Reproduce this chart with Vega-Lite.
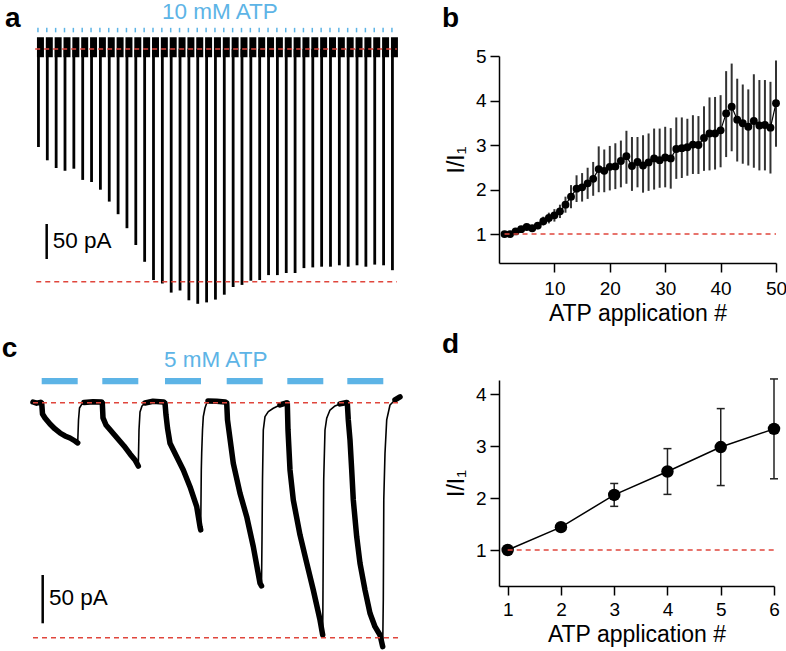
{
  "$schema": "https://vega.github.io/schema/vega-lite/v6.json",
  "padding": 0,
  "background": "white",
  "config": {
    "view": {"stroke": null},
    "font": "Liberation Sans",
    "axis": {
      "grid": false, "domainColor": "#000", "domainWidth": 1.5, "tickColor": "#000", "tickWidth": 1.5, "tickSize": 9,
      "labelFont": "Liberation Sans", "titleFont": "Liberation Sans", "labelFontSize": 19, "titleFontSize": 23,
      "titleFontWeight": "normal", "labelColor": "#000", "titleColor": "#000", "labelPadding": 4, "titlePadding": 7, "labelFlush": false
    }
  },
  "datasets": {
    "a_spikes": [
      {"app":1,"tip":-140},{"app":2,"tip":-159},{"app":3,"tip":-170},{"app":4,"tip":-174},{"app":5,"tip":-171},
      {"app":6,"tip":-187},{"app":7,"tip":-190},{"app":8,"tip":-201},{"app":9,"tip":-218},{"app":10,"tip":-236},
      {"app":11,"tip":-256},{"app":12,"tip":-280},{"app":13,"tip":-304},{"app":14,"tip":-330},{"app":15,"tip":-335},
      {"app":16,"tip":-348},{"app":17,"tip":-345},{"app":18,"tip":-359},{"app":19,"tip":-364},{"app":20,"tip":-362},
      {"app":21,"tip":-358},{"app":22,"tip":-351},{"app":23,"tip":-340},{"app":24,"tip":-337},{"app":25,"tip":-331},
      {"app":26,"tip":-330},{"app":27,"tip":-323},{"app":28,"tip":-323},{"app":29,"tip":-320},{"app":30,"tip":-320},
      {"app":31,"tip":-313},{"app":32,"tip":-312},{"app":33,"tip":-311},{"app":34,"tip":-311},{"app":35,"tip":-309},
      {"app":36,"tip":-311},{"app":37,"tip":-309},{"app":38,"tip":-311},{"app":39,"tip":-308},{"app":40,"tip":-309},
      {"app":41,"tip":-316}
    ],
    "a_ref": [{"ref":"baseline","I":0,"from":0.63,"to":41.5},{"ref":"max","I":-332.4,"from":0.75,"to":41.5}],
    "c_ref": [{"ref":"baseline","I":0,"from":0,"to":30.6},{"ref":"max","I":-243.4,"from":0,"to":30.6}],
    "b_ref": [{"ref":"baseline","m":1,"from":1,"to":50}],
    "d_ref": [{"ref":"baseline","m":1,"from":1,"to":6}],
    "c_bars": [
      {"app":1,"start":0.725,"end":3.725},{"app":2,"start":5.775,"end":8.775},{"app":3,"start":11.0,"end":14.0},
      {"app":4,"start":16.142,"end":19.142},{"app":5,"start":21.192,"end":24.192},{"app":6,"start":26.192,"end":29.192}
    ],
    "c_trace": [
      {"t":0,"I":0.7,"ph":"rest","seg":"r0"},{"t":0.3,"I":-0.5,"ph":"rest","seg":"r0"},{"t":0.625,"I":0.3,"ph":"rest","seg":"r0"},
      {"t":0.725,"I":-0.3,"ph":"atp","seg":"a1"},{"t":0.792,"I":-11.7,"ph":"atp","seg":"a1"},{"t":1.0,"I":-15.8,"ph":"atp","seg":"a1"},{"t":1.417,"I":-22.1,"ph":"atp","seg":"a1"},{"t":1.833,"I":-27.2,"ph":"atp","seg":"a1"},{"t":2.25,"I":-31.4,"ph":"atp","seg":"a1"},{"t":2.667,"I":-34.5,"ph":"atp","seg":"a1"},{"t":3.083,"I":-36.6,"ph":"atp","seg":"a1"},{"t":3.5,"I":-39.7,"ph":"atp","seg":"a1"},{"t":3.725,"I":-41.7,"ph":"atp","seg":"a1"},
      {"t":3.792,"I":-17.9,"ph":"wash","seg":"w1"},{"t":3.875,"I":-5.5,"ph":"wash","seg":"w1"},{"t":4.083,"I":-1.3,"ph":"wash","seg":"w1"},
      {"t":4.25,"I":0.2,"ph":"rest","seg":"r1"},{"t":5.0,"I":1.0,"ph":"rest","seg":"r1"},{"t":5.708,"I":0.7,"ph":"rest","seg":"r1"},
      {"t":5.775,"I":-0.3,"ph":"atp","seg":"a2"},{"t":5.833,"I":-15.8,"ph":"atp","seg":"a2"},{"t":6.083,"I":-23.1,"ph":"atp","seg":"a2"},{"t":6.583,"I":-30.3,"ph":"atp","seg":"a2"},{"t":7.083,"I":-37.6,"ph":"atp","seg":"a2"},{"t":7.583,"I":-44.8,"ph":"atp","seg":"a2"},{"t":8.083,"I":-53.1,"ph":"atp","seg":"a2"},{"t":8.5,"I":-59.3,"ph":"atp","seg":"a2"},{"t":8.775,"I":-65.6,"ph":"atp","seg":"a2"},
      {"t":8.833,"I":-28.3,"ph":"wash","seg":"w2"},{"t":8.917,"I":-9.6,"ph":"wash","seg":"w2"},{"t":9.083,"I":-3.4,"ph":"wash","seg":"w2"},
      {"t":9.333,"I":-0.3,"ph":"rest","seg":"r2"},{"t":10.0,"I":1.5,"ph":"rest","seg":"r2"},{"t":10.875,"I":0.7,"ph":"rest","seg":"r2"},
      {"t":11.0,"I":-0.3,"ph":"atp","seg":"a3"},{"t":11.083,"I":-12.7,"ph":"atp","seg":"a3"},{"t":11.208,"I":-26.2,"ph":"atp","seg":"a3"},{"t":11.417,"I":-42.1,"ph":"atp","seg":"a3"},{"t":11.975,"I":-55.9,"ph":"atp","seg":"a3"},{"t":12.525,"I":-69.7,"ph":"atp","seg":"a3"},{"t":13.083,"I":-87.0,"ph":"atp","seg":"a3"},{"t":13.642,"I":-107.7,"ph":"atp","seg":"a3"},{"t":13.917,"I":-128.4,"ph":"atp","seg":"a3"},{"t":13.975,"I":-131.8,"ph":"atp","seg":"a3"},
      {"t":14.025,"I":-69.7,"ph":"wash","seg":"w3"},{"t":14.058,"I":-52.1,"ph":"wash","seg":"w3"},{"t":14.125,"I":-28.3,"ph":"wash","seg":"w3"},{"t":14.192,"I":-14.5,"ph":"wash","seg":"w3"},{"t":14.333,"I":-5.5,"ph":"wash","seg":"w3"},{"t":14.475,"I":-0.3,"ph":"wash","seg":"w3"},
      {"t":14.583,"I":1.8,"ph":"rest","seg":"r3"},{"t":15.3,"I":1.5,"ph":"rest","seg":"r3"},{"t":16.0,"I":0.7,"ph":"rest","seg":"r3"},
      {"t":16.142,"I":-0.3,"ph":"atp","seg":"a4"},{"t":16.208,"I":-17.9,"ph":"atp","seg":"a4"},{"t":16.692,"I":-62.8,"ph":"atp","seg":"a4"},{"t":17.25,"I":-93.8,"ph":"atp","seg":"a4"},{"t":17.808,"I":-118.1,"ph":"atp","seg":"a4"},{"t":18.358,"I":-149.1,"ph":"atp","seg":"a4"},{"t":18.917,"I":-187.0,"ph":"atp","seg":"a4"},{"t":19.042,"I":-189.8,"ph":"atp","seg":"a4"},
      {"t":19.083,"I":-141.6,"ph":"wash","seg":"w4"},{"t":19.125,"I":-80.0,"ph":"wash","seg":"w4"},{"t":19.192,"I":-28.3,"ph":"wash","seg":"w4"},{"t":19.333,"I":-14.5,"ph":"wash","seg":"w4"},{"t":19.608,"I":-9.3,"ph":"wash","seg":"w4"},{"t":20.025,"I":-5.8,"ph":"wash","seg":"w4"},
      {"t":20.583,"I":-2.4,"ph":"rest","seg":"r4"},{"t":21.125,"I":-0.3,"ph":"rest","seg":"r4"},
      {"t":21.192,"I":-0.3,"ph":"atp","seg":"a5"},{"t":21.25,"I":-28.3,"ph":"atp","seg":"a5"},{"t":21.417,"I":-69.7,"ph":"atp","seg":"a5"},{"t":21.692,"I":-100.8,"ph":"atp","seg":"a5"},{"t":22.25,"I":-137.0,"ph":"atp","seg":"a5"},{"t":22.808,"I":-166.0,"ph":"atp","seg":"a5"},{"t":23.358,"I":-194.0,"ph":"atp","seg":"a5"},{"t":23.917,"I":-225.0,"ph":"atp","seg":"a5"},{"t":24.142,"I":-240.6,"ph":"atp","seg":"a5"},
      {"t":24.183,"I":-162.9,"ph":"wash","seg":"w5"},{"t":24.225,"I":-80.1,"ph":"wash","seg":"w5"},{"t":24.333,"I":-28.3,"ph":"wash","seg":"w5"},{"t":24.475,"I":-16.2,"ph":"wash","seg":"w5"},{"t":24.75,"I":-7.6,"ph":"wash","seg":"w5"},{"t":25.167,"I":-3.4,"ph":"wash","seg":"w5"},
      {"t":25.583,"I":-1.3,"ph":"rest","seg":"r5"},{"t":26.142,"I":0.2,"ph":"rest","seg":"r5"},
      {"t":26.192,"I":-0.3,"ph":"atp","seg":"a6"},{"t":26.275,"I":-17.9,"ph":"atp","seg":"a6"},{"t":26.417,"I":-38.6,"ph":"atp","seg":"a6"},{"t":26.558,"I":-69.7,"ph":"atp","seg":"a6"},{"t":26.692,"I":-100.8,"ph":"atp","seg":"a6"},{"t":26.975,"I":-138.8,"ph":"atp","seg":"a6"},{"t":27.25,"I":-166.3,"ph":"atp","seg":"a6"},{"t":27.667,"I":-194.0,"ph":"atp","seg":"a6"},{"t":28.083,"I":-218.1,"ph":"atp","seg":"a6"},{"t":28.5,"I":-232.0,"ph":"atp","seg":"a6"},{"t":28.917,"I":-240.6,"ph":"atp","seg":"a6"},{"t":29.142,"I":-252.7,"ph":"atp","seg":"a6"},
      {"t":29.192,"I":-203.4,"ph":"wash","seg":"w6"},{"t":29.233,"I":-99.8,"ph":"wash","seg":"w6"},{"t":29.333,"I":-52.4,"ph":"wash","seg":"w6"},{"t":29.475,"I":-17.9,"ph":"wash","seg":"w6"},{"t":29.75,"I":-2.4,"ph":"wash","seg":"w6"},
      {"t":30.167,"I":2.8,"ph":"rest","seg":"r6"},{"t":30.583,"I":5.9,"ph":"rest","seg":"r6"}
    ],
    "b_pts": [
      {"n":1,"m":1.00,"lo":1.00,"hi":1.00},{"n":2,"m":1.00,"lo":0.98,"hi":1.03},{"n":3,"m":1.06,"lo":1.02,"hi":1.10},{"n":4,"m":1.11,"lo":1.06,"hi":1.16},{"n":5,"m":1.16,"lo":1.10,"hi":1.22},
      {"n":6,"m":1.13,"lo":1.07,"hi":1.20},{"n":7,"m":1.19,"lo":1.11,"hi":1.27},{"n":8,"m":1.29,"lo":1.19,"hi":1.39},{"n":9,"m":1.36,"lo":1.24,"hi":1.48},{"n":10,"m":1.42,"lo":1.28,"hi":1.56},
      {"n":11,"m":1.51,"lo":1.36,"hi":1.66},{"n":12,"m":1.66,"lo":1.48,"hi":1.84},{"n":13,"m":1.84,"lo":1.58,"hi":2.10},{"n":14,"m":2.02,"lo":1.72,"hi":2.32},{"n":15,"m":2.05,"lo":1.73,"hi":2.37},
      {"n":16,"m":2.14,"lo":1.79,"hi":2.49},{"n":17,"m":2.24,"lo":1.86,"hi":2.62},{"n":18,"m":2.46,"lo":1.94,"hi":2.97},{"n":19,"m":2.42,"lo":1.94,"hi":2.90},{"n":20,"m":2.51,"lo":1.98,"hi":2.98},
      {"n":21,"m":2.52,"lo":2.01,"hi":3.04},{"n":22,"m":2.64,"lo":2.05,"hi":3.10},{"n":23,"m":2.75,"lo":2.13,"hi":3.32},{"n":24,"m":2.53,"lo":1.97,"hi":3.18},{"n":25,"m":2.62,"lo":2.05,"hi":3.18},
      {"n":26,"m":2.54,"lo":1.93,"hi":3.22},{"n":27,"m":2.61,"lo":1.97,"hi":3.26},{"n":28,"m":2.70,"lo":2.00,"hi":3.37},{"n":29,"m":2.66,"lo":2.04,"hi":3.37},{"n":30,"m":2.72,"lo":2.05,"hi":3.41},
      {"n":31,"m":2.70,"lo":2.02,"hi":3.38},{"n":32,"m":2.91,"lo":2.24,"hi":3.62},{"n":33,"m":2.93,"lo":2.26,"hi":3.62},{"n":34,"m":2.95,"lo":2.31,"hi":3.59},{"n":35,"m":3.01,"lo":2.35,"hi":3.67},
      {"n":36,"m":3.00,"lo":2.35,"hi":3.65},{"n":37,"m":3.16,"lo":2.42,"hi":3.87},{"n":38,"m":3.26,"lo":2.43,"hi":4.07},{"n":39,"m":3.26,"lo":2.45,"hi":4.08},{"n":40,"m":3.33,"lo":2.50,"hi":4.12},
      {"n":41,"m":3.71,"lo":2.73,"hi":4.66},{"n":42,"m":3.86,"lo":2.86,"hi":4.83},{"n":43,"m":3.57,"lo":2.63,"hi":4.49},{"n":44,"m":3.49,"lo":2.58,"hi":4.36},{"n":45,"m":3.41,"lo":2.54,"hi":4.25},
      {"n":46,"m":3.54,"lo":2.49,"hi":4.59},{"n":47,"m":3.44,"lo":2.43,"hi":4.46},{"n":48,"m":3.45,"lo":2.43,"hi":4.46},{"n":49,"m":3.39,"lo":2.36,"hi":4.42},{"n":50,"m":3.94,"lo":2.96,"hi":4.90}
    ],
    "d_pts": [
      {"n":1,"m":1.00,"lo":1.00,"hi":1.00},{"n":2,"m":1.44,"lo":1.40,"hi":1.49},{"n":3,"m":2.06,"lo":1.84,"hi":2.28},
      {"n":4,"m":2.51,"lo":2.07,"hi":2.95},{"n":5,"m":2.98,"lo":2.24,"hi":3.72},{"n":6,"m":3.33,"lo":2.37,"hi":4.29}
    ],
    "one": [{"k": 1}]
  },
  "hconcat": [
    {
      "spacing": 0, "bounds": "flush",
      "vconcat": [
        {
          "width": 410, "height": 315,
          "layer": [
            {"data": {"name": "a_spikes"}, "mark": {"type": "tick", "color": "#000", "opacity": 1, "orient": "horizontal", "size": 7, "thickness": 20, "xOffset": 2},
             "encoding": {"x": {"field": "app", "type": "quantitative", "scale": {"domain": [-2.78, 42.42], "nice": false, "zero": false}, "axis": null},
                          "y": {"datum": 2.5, "type": "quantitative", "scale": {"domain": [-380, 70], "nice": false, "zero": false}, "axis": null}}},
            {"data": {"name": "a_spikes"}, "mark": {"type": "bar", "color": "#000", "size": 2.8},
             "encoding": {"x": {"field": "app", "type": "quantitative", "scale": {"domain": [-2.78, 42.42], "nice": false, "zero": false}, "axis": null},
                          "y": {"field": "tip", "type": "quantitative", "stack": null, "scale": {"domain": [-380, 70], "nice": false, "zero": false}, "axis": null}}},
            {"data": {"name": "a_spikes"}, "mark": {"type": "tick", "color": "#5db4e6", "opacity": 1, "orient": "vertical", "size": 4.5, "thickness": 1.5, "xOffset": -0.5},
             "encoding": {"x": {"field": "app", "type": "quantitative", "scale": {"domain": [-2.78, 42.42], "nice": false, "zero": false}, "axis": null},
                          "y": {"datum": 27, "type": "quantitative", "scale": {"domain": [-380, 70], "nice": false, "zero": false}, "axis": null}}},
            {"data": {"name": "a_ref"}, "mark": {"type": "rule", "color": "#e0463c", "strokeWidth": 1.5, "strokeDash": [5, 4]},
             "encoding": {"x": {"field": "from", "type": "quantitative", "scale": {"domain": [-2.78, 42.42], "nice": false, "zero": false}, "axis": null},
                          "x2": {"field": "to"},
                          "y": {"field": "I", "type": "quantitative", "scale": {"domain": [-380, 70], "nice": false, "zero": false}, "axis": null}}},
            {"data": {"name": "one"}, "mark": {"type": "tick", "color": "#000", "opacity": 1, "orient": "vertical", "size": 35, "thickness": 2.5},
             "encoding": {"x": {"datum": 1.93, "type": "quantitative", "scale": {"domain": [-2.78, 42.42], "nice": false, "zero": false}, "axis": null},
                          "y": {"datum": -275, "type": "quantitative", "scale": {"domain": [-380, 70], "nice": false, "zero": false}, "axis": null}}},
            {"data": {"name": "one"}, "mark": {"type": "text", "text": "50 pA", "fontSize": 22.5, "align": "left", "baseline": "middle", "color": "#000"},
             "encoding": {"x": {"datum": 2.62, "type": "quantitative", "scale": {"domain": [-2.78, 42.42], "nice": false, "zero": false}, "axis": null},
                          "y": {"datum": -274, "type": "quantitative", "scale": {"domain": [-380, 70], "nice": false, "zero": false}, "axis": null}}},
            {"data": {"name": "one"}, "mark": {"type": "text", "text": "10 mM ATP", "fontSize": 22.5, "align": "center", "baseline": "middle", "color": "#5db4e6"},
             "encoding": {"x": {"datum": 21.5, "type": "quantitative", "scale": {"domain": [-2.78, 42.42], "nice": false, "zero": false}, "axis": null},
                          "y": {"datum": 52.5, "type": "quantitative", "scale": {"domain": [-380, 70], "nice": false, "zero": false}, "axis": null}}},
            {"data": {"name": "one"}, "mark": {"type": "text", "text": "a", "fontSize": 28, "fontWeight": "bold", "align": "left", "baseline": "alphabetic", "color": "#000"},
             "encoding": {"x": {"datum": -2.78, "type": "quantitative", "scale": {"domain": [-2.78, 42.42], "nice": false, "zero": false}, "axis": null},
                          "y": {"datum": 31.4, "type": "quantitative", "scale": {"domain": [-380, 70], "nice": false, "zero": false}, "axis": null}}}
          ]
        },
        {
          "width": 410, "height": 336,
          "layer": [
            {"data": {"name": "c_bars"}, "mark": {"type": "rule", "color": "#5db4e6", "strokeWidth": 6.3, "strokeCap": "butt"},
             "encoding": {"x": {"field": "start", "type": "quantitative", "scale": {"domain": [-2.75, 31.4167], "nice": false, "zero": false}, "axis": null},
                          "x2": {"field": "end"},
                          "y": {"datum": 22.4, "type": "quantitative", "scale": {"domain": [-257.2, 90.8], "nice": false, "zero": false}, "axis": null}}},
            {"data": {"name": "c_trace"}, "mark": {"type": "line", "color": "#000", "strokeWidth": 1.6, "strokeJoin": "round"},
             "encoding": {"x": {"field": "t", "type": "quantitative", "scale": {"domain": [-2.75, 31.4167], "nice": false, "zero": false}, "axis": null},
                          "y": {"field": "I", "type": "quantitative", "scale": {"domain": [-257.2, 90.8], "nice": false, "zero": false}, "axis": null}}},
            {"data": {"name": "c_trace"}, "transform": [{"filter": "datum.ph != 'wash'"}],
             "mark": {"type": "line", "color": "#000", "strokeWidth": 5.5, "strokeJoin": "round", "strokeCap": "round"},
             "encoding": {"x": {"field": "t", "type": "quantitative", "scale": {"domain": [-2.75, 31.4167], "nice": false, "zero": false}, "axis": null},
                          "y": {"field": "I", "type": "quantitative", "scale": {"domain": [-257.2, 90.8], "nice": false, "zero": false}, "axis": null},
                          "detail": {"field": "seg", "type": "nominal"}}},
            {"data": {"name": "c_ref"}, "mark": {"type": "rule", "color": "#e0463c", "strokeWidth": 1.5, "strokeDash": [5, 4]},
             "encoding": {"x": {"field": "from", "type": "quantitative", "scale": {"domain": [-2.75, 31.4167], "nice": false, "zero": false}, "axis": null},
                          "x2": {"field": "to"},
                          "y": {"field": "I", "type": "quantitative", "scale": {"domain": [-257.2, 90.8], "nice": false, "zero": false}, "axis": null}}},
            {"data": {"name": "one"}, "mark": {"type": "tick", "color": "#000", "opacity": 1, "orient": "vertical", "size": 48.3, "thickness": 2.5},
             "encoding": {"x": {"datum": 0.808, "type": "quantitative", "scale": {"domain": [-2.75, 31.4167], "nice": false, "zero": false}, "axis": null},
                          "y": {"datum": -203.5, "type": "quantitative", "scale": {"domain": [-257.2, 90.8], "nice": false, "zero": false}, "axis": null}}},
            {"data": {"name": "one"}, "mark": {"type": "text", "text": "50 pA", "fontSize": 22.5, "align": "left", "baseline": "middle", "color": "#000"},
             "encoding": {"x": {"datum": 1.333, "type": "quantitative", "scale": {"domain": [-2.75, 31.4167], "nice": false, "zero": false}, "axis": null},
                          "y": {"datum": -202.3, "type": "quantitative", "scale": {"domain": [-257.2, 90.8], "nice": false, "zero": false}, "axis": null}}},
            {"data": {"name": "one"}, "mark": {"type": "text", "text": "5 mM ATP", "fontSize": 22.5, "align": "center", "baseline": "middle", "color": "#5db4e6"},
             "encoding": {"x": {"datum": 15.23, "type": "quantitative", "scale": {"domain": [-2.75, 31.4167], "nice": false, "zero": false}, "axis": null},
                          "y": {"datum": 43.7, "type": "quantitative", "scale": {"domain": [-257.2, 90.8], "nice": false, "zero": false}, "axis": null}}},
            {"data": {"name": "one"}, "mark": {"type": "text", "text": "c", "fontSize": 28, "fontWeight": "bold", "align": "left", "baseline": "alphabetic", "color": "#000"},
             "encoding": {"x": {"datum": -2.6, "type": "quantitative", "scale": {"domain": [-2.75, 31.4167], "nice": false, "zero": false}, "axis": null},
                          "y": {"datum": 47.6, "type": "quantitative", "scale": {"domain": [-257.2, 90.8], "nice": false, "zero": false}, "axis": null}}}
          ]
        }
      ]
    },
    {
      "spacing": 0, "bounds": "flush",
      "vconcat": [
        {"width": 277, "height": 56, "data": {"name": "one"}, "mark": {"type": "point", "opacity": 0}, "encoding": {}},
        {
          "width": 277, "height": 207,
          "layer": [
            {"data": {"name": "b_pts"}, "mark": {"type": "rule", "color": "#333", "strokeWidth": 2},
             "encoding": {"x": {"field": "n", "type": "quantitative", "title": "ATP application #", "scale": {"domain": [0, 50], "nice": false, "zero": false}, "axis": {"values": [10, 20, 30, 40, 50], "labelPadding": 7, "titlePadding": 4}},
                          "y": {"field": "lo", "type": "quantitative", "title": "I/I₁", "scale": {"domain": [0.35, 5], "nice": false, "zero": false}, "axis": {"values": [1, 2, 3, 4, 5]}},
                          "y2": {"field": "hi"}}},
            {"data": {"name": "b_pts"}, "mark": {"type": "line", "color": "#000", "strokeWidth": 1.2},
             "encoding": {"x": {"field": "n", "type": "quantitative", "title": "ATP application #", "scale": {"domain": [0, 50], "nice": false, "zero": false}, "axis": {"values": [10, 20, 30, 40, 50], "labelPadding": 7, "titlePadding": 4}},
                          "y": {"field": "m", "type": "quantitative", "title": "I/I₁", "scale": {"domain": [0.35, 5], "nice": false, "zero": false}, "axis": {"values": [1, 2, 3, 4, 5]}}}},
            {"data": {"name": "b_pts"}, "mark": {"type": "circle", "color": "#000", "size": 62, "opacity": 1},
             "encoding": {"x": {"field": "n", "type": "quantitative", "title": "ATP application #", "scale": {"domain": [0, 50], "nice": false, "zero": false}, "axis": {"values": [10, 20, 30, 40, 50], "labelPadding": 7, "titlePadding": 4}},
                          "y": {"field": "m", "type": "quantitative", "title": "I/I₁", "scale": {"domain": [0.35, 5], "nice": false, "zero": false}, "axis": {"values": [1, 2, 3, 4, 5]}}}},
            {"data": {"name": "b_ref"}, "mark": {"type": "rule", "color": "#e0463c", "strokeWidth": 1.5, "strokeDash": [5, 4]},
             "encoding": {"x": {"field": "from", "type": "quantitative", "title": "ATP application #", "scale": {"domain": [0, 50], "nice": false, "zero": false}, "axis": {"values": [10, 20, 30, 40, 50], "labelPadding": 7, "titlePadding": 4}},
                          "x2": {"field": "to"},
                          "y": {"field": "m", "type": "quantitative", "title": "I/I₁", "scale": {"domain": [0.35, 5], "nice": false, "zero": false}, "axis": {"values": [1, 2, 3, 4, 5]}}}},
            {"data": {"name": "one"}, "mark": {"type": "text", "text": "b", "fontSize": 28, "fontWeight": "bold", "align": "left", "baseline": "alphabetic", "color": "#000"},
             "encoding": {"x": {"datum": -10.3, "type": "quantitative", "title": "ATP application #", "scale": {"domain": [0, 50], "nice": false, "zero": false}, "axis": {"values": [10, 20, 30, 40, 50], "labelPadding": 7, "titlePadding": 4}},
                          "y": {"datum": 5.66, "type": "quantitative", "title": "I/I₁", "scale": {"domain": [0.35, 5], "nice": false, "zero": false}, "axis": {"values": [1, 2, 3, 4, 5]}}}}
          ]
        },
        {"width": 277, "height": 117, "data": {"name": "one"}, "mark": {"type": "point", "opacity": 0}, "encoding": {}},
        {
          "width": 275, "height": 206,
          "layer": [
            {"data": {"name": "d_pts"}, "mark": {"type": "rule", "color": "#222", "strokeWidth": 1.5},
             "encoding": {"x": {"field": "n", "type": "quantitative", "title": "ATP application #", "scale": {"domain": [0.837, 6], "nice": false, "zero": false}, "axis": {"values": [1, 2, 3, 4, 5, 6], "labelPadding": 5, "titlePadding": 4}},
                          "y": {"field": "lo", "type": "quantitative", "title": "I/I₁", "scale": {"domain": [0.308, 4.27], "nice": false, "zero": false}, "axis": {"values": [1, 2, 3, 4]}},
                          "y2": {"field": "hi"}}},
            {"data": {"name": "d_pts"}, "mark": {"type": "tick", "color": "#222", "opacity": 1, "thickness": 1.5, "size": 8, "orient": "horizontal"},
             "encoding": {"x": {"field": "n", "type": "quantitative", "title": "ATP application #", "scale": {"domain": [0.837, 6], "nice": false, "zero": false}, "axis": {"values": [1, 2, 3, 4, 5, 6], "labelPadding": 5, "titlePadding": 4}},
                          "y": {"field": "hi", "type": "quantitative", "title": "I/I₁", "scale": {"domain": [0.308, 4.27], "nice": false, "zero": false}, "axis": {"values": [1, 2, 3, 4]}}}},
            {"data": {"name": "d_pts"}, "mark": {"type": "tick", "color": "#222", "opacity": 1, "thickness": 1.5, "size": 8, "orient": "horizontal"},
             "encoding": {"x": {"field": "n", "type": "quantitative", "title": "ATP application #", "scale": {"domain": [0.837, 6], "nice": false, "zero": false}, "axis": {"values": [1, 2, 3, 4, 5, 6], "labelPadding": 5, "titlePadding": 4}},
                          "y": {"field": "lo", "type": "quantitative", "title": "I/I₁", "scale": {"domain": [0.308, 4.27], "nice": false, "zero": false}, "axis": {"values": [1, 2, 3, 4]}}}},
            {"data": {"name": "d_pts"}, "mark": {"type": "line", "color": "#000", "strokeWidth": 1.5},
             "encoding": {"x": {"field": "n", "type": "quantitative", "title": "ATP application #", "scale": {"domain": [0.837, 6], "nice": false, "zero": false}, "axis": {"values": [1, 2, 3, 4, 5, 6], "labelPadding": 5, "titlePadding": 4}},
                          "y": {"field": "m", "type": "quantitative", "title": "I/I₁", "scale": {"domain": [0.308, 4.27], "nice": false, "zero": false}, "axis": {"values": [1, 2, 3, 4]}}}},
            {"data": {"name": "d_pts"}, "mark": {"type": "circle", "color": "#000", "size": 155, "opacity": 1},
             "encoding": {"x": {"field": "n", "type": "quantitative", "title": "ATP application #", "scale": {"domain": [0.837, 6], "nice": false, "zero": false}, "axis": {"values": [1, 2, 3, 4, 5, 6], "labelPadding": 5, "titlePadding": 4}},
                          "y": {"field": "m", "type": "quantitative", "title": "I/I₁", "scale": {"domain": [0.308, 4.27], "nice": false, "zero": false}, "axis": {"values": [1, 2, 3, 4]}}}},
            {"data": {"name": "d_ref"}, "mark": {"type": "rule", "color": "#e0463c", "strokeWidth": 1.5, "strokeDash": [5, 4]},
             "encoding": {"x": {"field": "from", "type": "quantitative", "title": "ATP application #", "scale": {"domain": [0.837, 6], "nice": false, "zero": false}, "axis": {"values": [1, 2, 3, 4, 5, 6], "labelPadding": 5, "titlePadding": 4}},
                          "x2": {"field": "to"},
                          "y": {"field": "m", "type": "quantitative", "title": "I/I₁", "scale": {"domain": [0.308, 4.27], "nice": false, "zero": false}, "axis": {"values": [1, 2, 3, 4]}}}},
            {"data": {"name": "one"}, "mark": {"type": "text", "text": "d", "fontSize": 28, "fontWeight": "bold", "align": "left", "baseline": "alphabetic", "color": "#000"},
             "encoding": {"x": {"datum": -0.232, "type": "quantitative", "title": "ATP application #", "scale": {"domain": [0.837, 6], "nice": false, "zero": false}, "axis": {"values": [1, 2, 3, 4, 5, 6], "labelPadding": 5, "titlePadding": 4}},
                          "y": {"datum": 4.78, "type": "quantitative", "title": "I/I₁", "scale": {"domain": [0.308, 4.27], "nice": false, "zero": false}, "axis": {"values": [1, 2, 3, 4]}}}}
          ]
        }
      ]
    }
  ],
  "spacing": 31,
  "bounds": "full"
}
